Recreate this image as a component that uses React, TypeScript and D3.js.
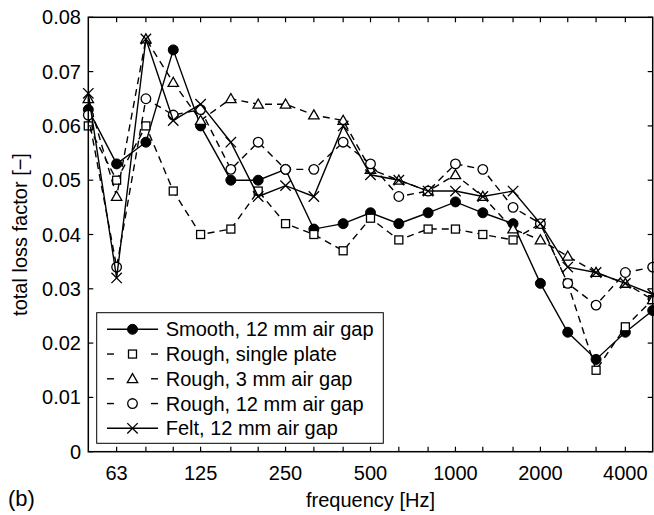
import React from "react";
import * as d3 from "d3";

const freqs = [50, 63, 80, 100, 125, 160, 200, 250, 315, 400, 500, 630, 800, 1000, 1250, 1600, 2000, 2500, 3150, 4000, 5000];
const smooth = [0.063, 0.053, 0.057, 0.074, 0.060, 0.050, 0.050, 0.052, 0.041, 0.042, 0.044, 0.042, 0.044, 0.046, 0.044, 0.042, 0.031, 0.022, 0.017, 0.022, 0.026];
const roughSingle = [0.060, 0.050, 0.060, 0.048, 0.040, 0.041, 0.048, 0.042, 0.040, 0.037, 0.043, 0.039, 0.041, 0.041, 0.040, 0.039, 0.042, 0.031, 0.015, 0.023, 0.028];
const rough3 = [0.065, 0.047, 0.076, 0.068, 0.061, 0.065, 0.064, 0.064, 0.062, 0.061, 0.052, 0.050, 0.048, 0.051, 0.047, 0.041, 0.039, 0.036, 0.033, 0.031, 0.028];
const rough12 = [0.062, 0.034, 0.065, 0.062, 0.063, 0.052, 0.057, 0.052, 0.052, 0.057, 0.053, 0.047, 0.048, 0.053, 0.052, 0.045, 0.042, 0.031, 0.027, 0.033, 0.034];
const felt = [0.066, 0.032, 0.076, 0.061, 0.064, 0.057, 0.047, 0.049, 0.047, 0.060, 0.051, 0.050, 0.048, 0.048, 0.047, 0.048, 0.042, 0.034, 0.033, 0.031, 0.029];

const xTickLabels = [63, 125, 250, 500, 1000, 2000, 4000];
const xMinorTicks = [63, 80, 100, 125, 160, 200, 250, 315, 400, 500, 630, 800, 1000, 1250, 1600, 2000, 2500, 3150, 4000];
const yTicks = [0, 0.01, 0.02, 0.03, 0.04, 0.05, 0.06, 0.07, 0.08];
const yTickLabels = ["0", "0.01", "0.02", "0.03", "0.04", "0.05", "0.06", "0.07", "0.08"];

const seriesNames = ["Smooth, 12 mm air gap", "Rough, single plate", "Rough, 3 mm air gap", "Rough, 12 mm air gap", "Felt, 12 mm air gap"];
const seriesValues = [smooth, roughSingle, rough3, rough12, felt];
const seriesMarkers = ["filled", "square", "triangle", "circle", "x"];
const seriesDashed = [false, true, true, true, false];

const W = 654, H = 515;
const L = 88.3, R = 652.7, T = 17.3, B = 451.7;
const FONT = "'Liberation Sans', Arial, Helvetica, sans-serif";

function Marker({ kind, x, y }: { kind: string; x: number; y: number }) {
  const sw = 1.3;
  if (kind === "filled") return <circle cx={x} cy={y} r={5} fill="#000" stroke="#000" strokeWidth={1} />;
  if (kind === "circle") return <circle cx={x} cy={y} r={4.8} fill="#fff" stroke="#000" strokeWidth={sw} />;
  if (kind === "square") return <rect x={x - 4} y={y - 4} width={8} height={8} fill="#fff" stroke="#000" strokeWidth={sw} />;
  if (kind === "triangle") {
    const s = 5.2;
    return <path d={`M${x},${y - s}L${x + s},${y + s * 0.75}L${x - s},${y + s * 0.75}Z`} fill="#fff" stroke="#000" strokeWidth={sw} />;
  }
  const s = 5.2;
  return <path d={`M${x - s},${y - s}L${x + s},${y + s}M${x - s},${y + s}L${x + s},${y - s}`} stroke="#000" strokeWidth={sw} fill="none" />;
}

export default function App() {
  const x = d3.scaleLog().domain([50, 5000]).range([L, R]);
  const y = d3.scaleLinear().domain([0, 0.08]).range([B, T]);
  const line = d3.line<number>().x((_, i) => x(freqs[i])).y((d) => y(d));

  const legX = 96.7, legY = 312.7, legW = 286.6, legH = 130.6;
  const rowY0 = 329.3, rowDy = 24.75;

  return (
    <svg width={W} height={H} style={{ position: "absolute", left: 0, top: 0, background: "#fff" }} fontFamily={FONT}>
      <rect x={0} y={0} width={W} height={H} fill="#fff" />
      {seriesValues.map((vals, si) => (
        <g key={si}>
          <path d={line(vals) || ""} fill="none" stroke="#000" strokeWidth={1.4} strokeDasharray={seriesDashed[si] ? "7,5" : undefined} />
          {vals.map((v, i) => (
            <Marker key={i} kind={seriesMarkers[si]} x={x(freqs[i])} y={y(v)} />
          ))}
        </g>
      ))}
      <rect x={L} y={T} width={R - L} height={B - T} fill="none" stroke="#000" strokeWidth={1.5} />
      {xMinorTicks.map((f) => (
        <g key={f}>
          <line x1={x(f)} x2={x(f)} y1={B} y2={B - 5} stroke="#000" strokeWidth={1.2} />
          <line x1={x(f)} x2={x(f)} y1={T} y2={T + 5} stroke="#000" strokeWidth={1.2} />
        </g>
      ))}
      {yTicks.map((t) => (
        <g key={t}>
          <line x1={L} x2={L + 5} y1={y(t)} y2={y(t)} stroke="#000" strokeWidth={1.2} />
          <line x1={R} x2={R - 5} y1={y(t)} y2={y(t)} stroke="#000" strokeWidth={1.2} />
        </g>
      ))}
      {xTickLabels.map((f) => (
        <text key={f} x={x(f)} y={479.5} fontSize={20} textAnchor="middle" fill="#000">{f}</text>
      ))}
      {yTicks.map((t, i) => (
        <text key={t} x={81} y={y(t) + 7} fontSize={20} textAnchor="end" fill="#000">{yTickLabels[i]}</text>
      ))}
      <text x={(L + R) / 2} y={507} fontSize={20} textAnchor="middle" fill="#000">frequency [Hz]</text>
      <text transform={`translate(27,${(T + B) / 2}) rotate(-90)`} fontSize={20} textAnchor="middle" fill="#000">total loss factor [−]</text>
      <text x={8} y={506} fontSize={22} fill="#000">(b)</text>
      <rect x={legX} y={legY} width={legW} height={legH} fill="#fff" stroke="#000" strokeWidth={1} />
      {seriesNames.map((name, si) => {
        const ry = rowY0 + si * rowDy;
        return (
          <g key={name}>
            {seriesDashed[si] ? (
              <g>
                <line x1={107} x2={114} y1={ry} y2={ry} stroke="#000" strokeWidth={1.4} />
                <line x1={151} x2={158} y1={ry} y2={ry} stroke="#000" strokeWidth={1.4} />
              </g>
            ) : (
              <line x1={107} x2={158} y1={ry} y2={ry} stroke="#000" strokeWidth={1.4} />
            )}
            <Marker kind={seriesMarkers[si]} x={132.5} y={ry} />
            <text x={165.7} y={ry + 7} fontSize={20} fill="#000">{name}</text>
          </g>
        );
      })}
    </svg>
  );
}
